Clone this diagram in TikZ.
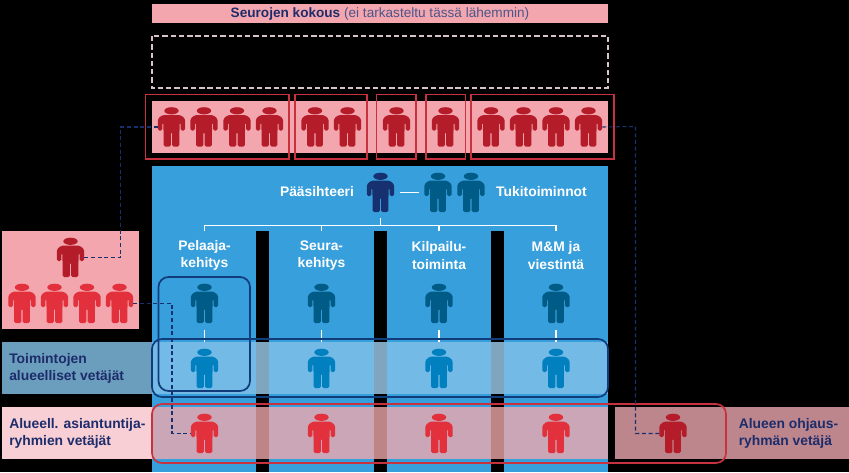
\documentclass[tikz,border=0pt]{standalone}
\usepackage{fontspec}
\setmainfont{Liberation Sans}
\definecolor{pink}{HTML}{F4A6AE}
\definecolor{pinkpale}{HTML}{F8CFD4}
\definecolor{darkred}{HTML}{B51C2A}
\definecolor{brightred}{HTML}{E2303C}
\definecolor{outlinered}{HTML}{C8323F}
\definecolor{panelblue}{HTML}{379FDC}
\definecolor{bandblue}{HTML}{74BAE6}
\definecolor{bandbar}{HTML}{7FA6BE}
\definecolor{steel}{HTML}{6B9DBC}
\definecolor{navy}{HTML}{17306F}
\definecolor{outlinenavy}{HTML}{103C7C}
\definecolor{teal}{HTML}{005C86}
\definecolor{midblue}{HTML}{0080BE}
\definecolor{bandred}{HTML}{CBA6B6}
\definecolor{bandredbar}{HTML}{BE8586}
\definecolor{rightred}{HTML}{BD868C}
\definecolor{textnavy}{HTML}{1D2C6B}
\definecolor{dashgrey}{HTML}{D8C4C8}
\tikzset{
  x=.75pt,y=-.75pt,
  personbox/.style={inner sep=0pt,minimum width=20.25pt,minimum height=29.25pt},
  lbl/.style={inner sep=0pt,font=\fontsize{10.4}{13}\selectfont\bfseries},
  whitelbl/.style={lbl,text=white,align=center},
  navylbl/.style={lbl,text=textnavy,align=left},
  redframe/.style={draw=outlinered,line width=.9pt},
  bluering/.style={draw=outlinenavy,line width=1.3pt,rounded corners=7.5pt},
  redring/.style={draw=outlinered,line width=1.3pt,rounded corners=7.5pt},
  dashlink/.style={draw=navy,line width=.8pt,dash pattern=on 3pt off 2pt},
  whiteline/.style={draw=white,line width=1.3pt},
}
\newcommand{\person}[4]{%
  \node[personbox] (#1) at (#2,#3) {};
  \fill[#4,shift={(#1.center)},rounded corners=1.1pt]
    (0,-11.8) -- (9.5,-11.8) -- (13.7,-8) -- (13.7,3.5) -- (9.1,3.5) -- (9.1,-4.5) -- (8.1,-4.5)
    -- (7.8,19.5) -- (0.55,19.5) -- (0.55,5) -- (-0.55,5) -- (-0.55,19.5) -- (-7.8,19.5)
    -- (-8.1,-4.5) -- (-9.1,-4.5) -- (-9.1,3.5) -- (-13.7,3.5) -- (-13.7,-8) -- (-9.5,-11.8) -- cycle;
  \fill[#4,shift={(#1.center)}] (0,-16.2) ellipse [x radius=7.2,y radius=3.6];
}
\begin{document}
\begin{tikzpicture}
\useasboundingbox (0,0) rectangle (849,472);
\fill[black] (0,0) rectangle (849,472);
% top rows
\fill[pink] (152,3.5) rectangle (608,22.5);
\node[inner sep=0pt,font=\fontsize{10.2}{12}\selectfont] (title) at (380,13.5)
  {\textcolor{textnavy}{\bfseries Seurojen kokous} \textcolor{textnavy!80!white}{(ei tarkasteltu tässä lähemmin)}};
\draw[dashgrey,line width=.9pt,dash pattern=on 4pt off 2.2pt] (152,36) rectangle (608,88);
\fill[pink] (152,101) rectangle (608,153);
\foreach \a/\b in {145.5/289,295/367,376.5/416,426/465.5,471/614}
  \draw[redframe] (\a,94.5) rectangle (\b,159);
\foreach \n/\x in {t1/171.5,t2/204,t3/237,t4/269.5,t5/315,t6/347.5,t7/396.5,t8/445.5,t9/491,t10/523.5,t11/556,t12/588.5}
  {\person{\n}{\x}{127}{darkred}}
% blue panel
\fill[panelblue] (152,166) rectangle (608,472);
\foreach \x in {256,373.5,491}
  \fill[black] (\x,231) rectangle (\x+13,472);
% left pink box
\fill[pink] (2,231) rectangle (139,329);
\person{lboss}{70.5}{257.5}{darkred}
\foreach \n/\x in {l1/22,l2/54.5,l3/87,l4/119.5}
  {\person{\n}{\x}{303.5}{brightred}}
% bands
\fill[steel] (2,342) rectangle (152,394);
\fill[bandblue] (152,342) rectangle (608,394);
\fill[pinkpale] (2,407) rectangle (152,459);
\fill[bandred] (152,407) rectangle (608,459);
\fill[rightred] (614.5,407) rectangle (849,459);
\foreach \x in {256,373.5,491} {
  \fill[bandbar] (\x,342) rectangle (\x+13,394);
  \fill[bandredbar] (\x,407) rectangle (\x+13,459);
}
% panel heading
\node[whitelbl] (ps) at (317,191.5) {Pääsihteeri};
\person{boss}{380.5}{192.5}{navy}
\person{s1}{438}{192.5}{teal}
\person{s2}{471}{192.5}{teal}
\node[whitelbl] (tuki) at (541.5,191.5) {Tukitoiminnot};
\coordinate (dashL) at (400,192.5);
\coordinate (dashR) at (419,192.5);
\draw[whiteline] (dashL) -- (dashR);
% columns
\node[whitelbl] (c1) at (204.5,255.5) {Pelaaja-\\kehitys};
\node[whitelbl] (c2) at (321.5,255.5) {Seura-\\kehitys};
\node[whitelbl] (c3) at (439,255.5) {Kilpailu-\\toiminta};
\node[whitelbl] (c4) at (556,255.5) {M\&M ja\\viestintä};
\coordinate (bar) at (380.5,225.5);
\draw[whiteline] (boss.south) ++(0,6) -- (bar);
\draw[whiteline] (204.5,231) -- (204.5,225.5) -- (556,225.5) -- (556,231);
\draw[whiteline] (321.5,225.5) -- (321.5,231);
\draw[whiteline] (439,225.5) -- (439,231);
\foreach \i/\x in {1/204.5,2/321.5,3/439,4/556} {
  \person{a\i}{\x}{303.5}{teal}
  \person{b\i}{\x}{368.5}{midblue}
  \person{r\i}{\x}{433.5}{brightred}
  \draw[whiteline] (\x,329.5) -- (\x,342);
}
\person{ro}{673}{433.5}{darkred}
% rings
\draw[bluering] (158.5,277) rectangle (250,391);
\draw[bluering] (152,339) rectangle (608,397);
\draw[redring] (152,404) rectangle (726,463);
% dashed links
\draw[dashlink] (lboss.east) -- ++(36,0) coordinate (k1) -- (k1 |- t1.center) coordinate (k2) -- (t1.west);
\draw[dashlink] (t12.east) -- (635.5,126.5) coordinate (k3) -- (k3 |- ro.center) coordinate (k4) -- (ro.west);
\draw[dashlink] (l4.east) -- (172,303.5) coordinate (k5) -- (k5 |- r1.center) coordinate (k6) -- (r1.west);
% labels
\node[navylbl,anchor=west] (lt) at (9,368.5) {Toimintojen\\alueelliset vetäjät};
\node[navylbl,anchor=west] (la) at (9,433.5) {Alueell. asiantuntija-\\ryhmien vetäjät};
\node[navylbl,anchor=west] (ra) at (738.5,433.5) {Alueen ohjaus-\\ryhmän vetäjä};
\end{tikzpicture}
\end{document}
